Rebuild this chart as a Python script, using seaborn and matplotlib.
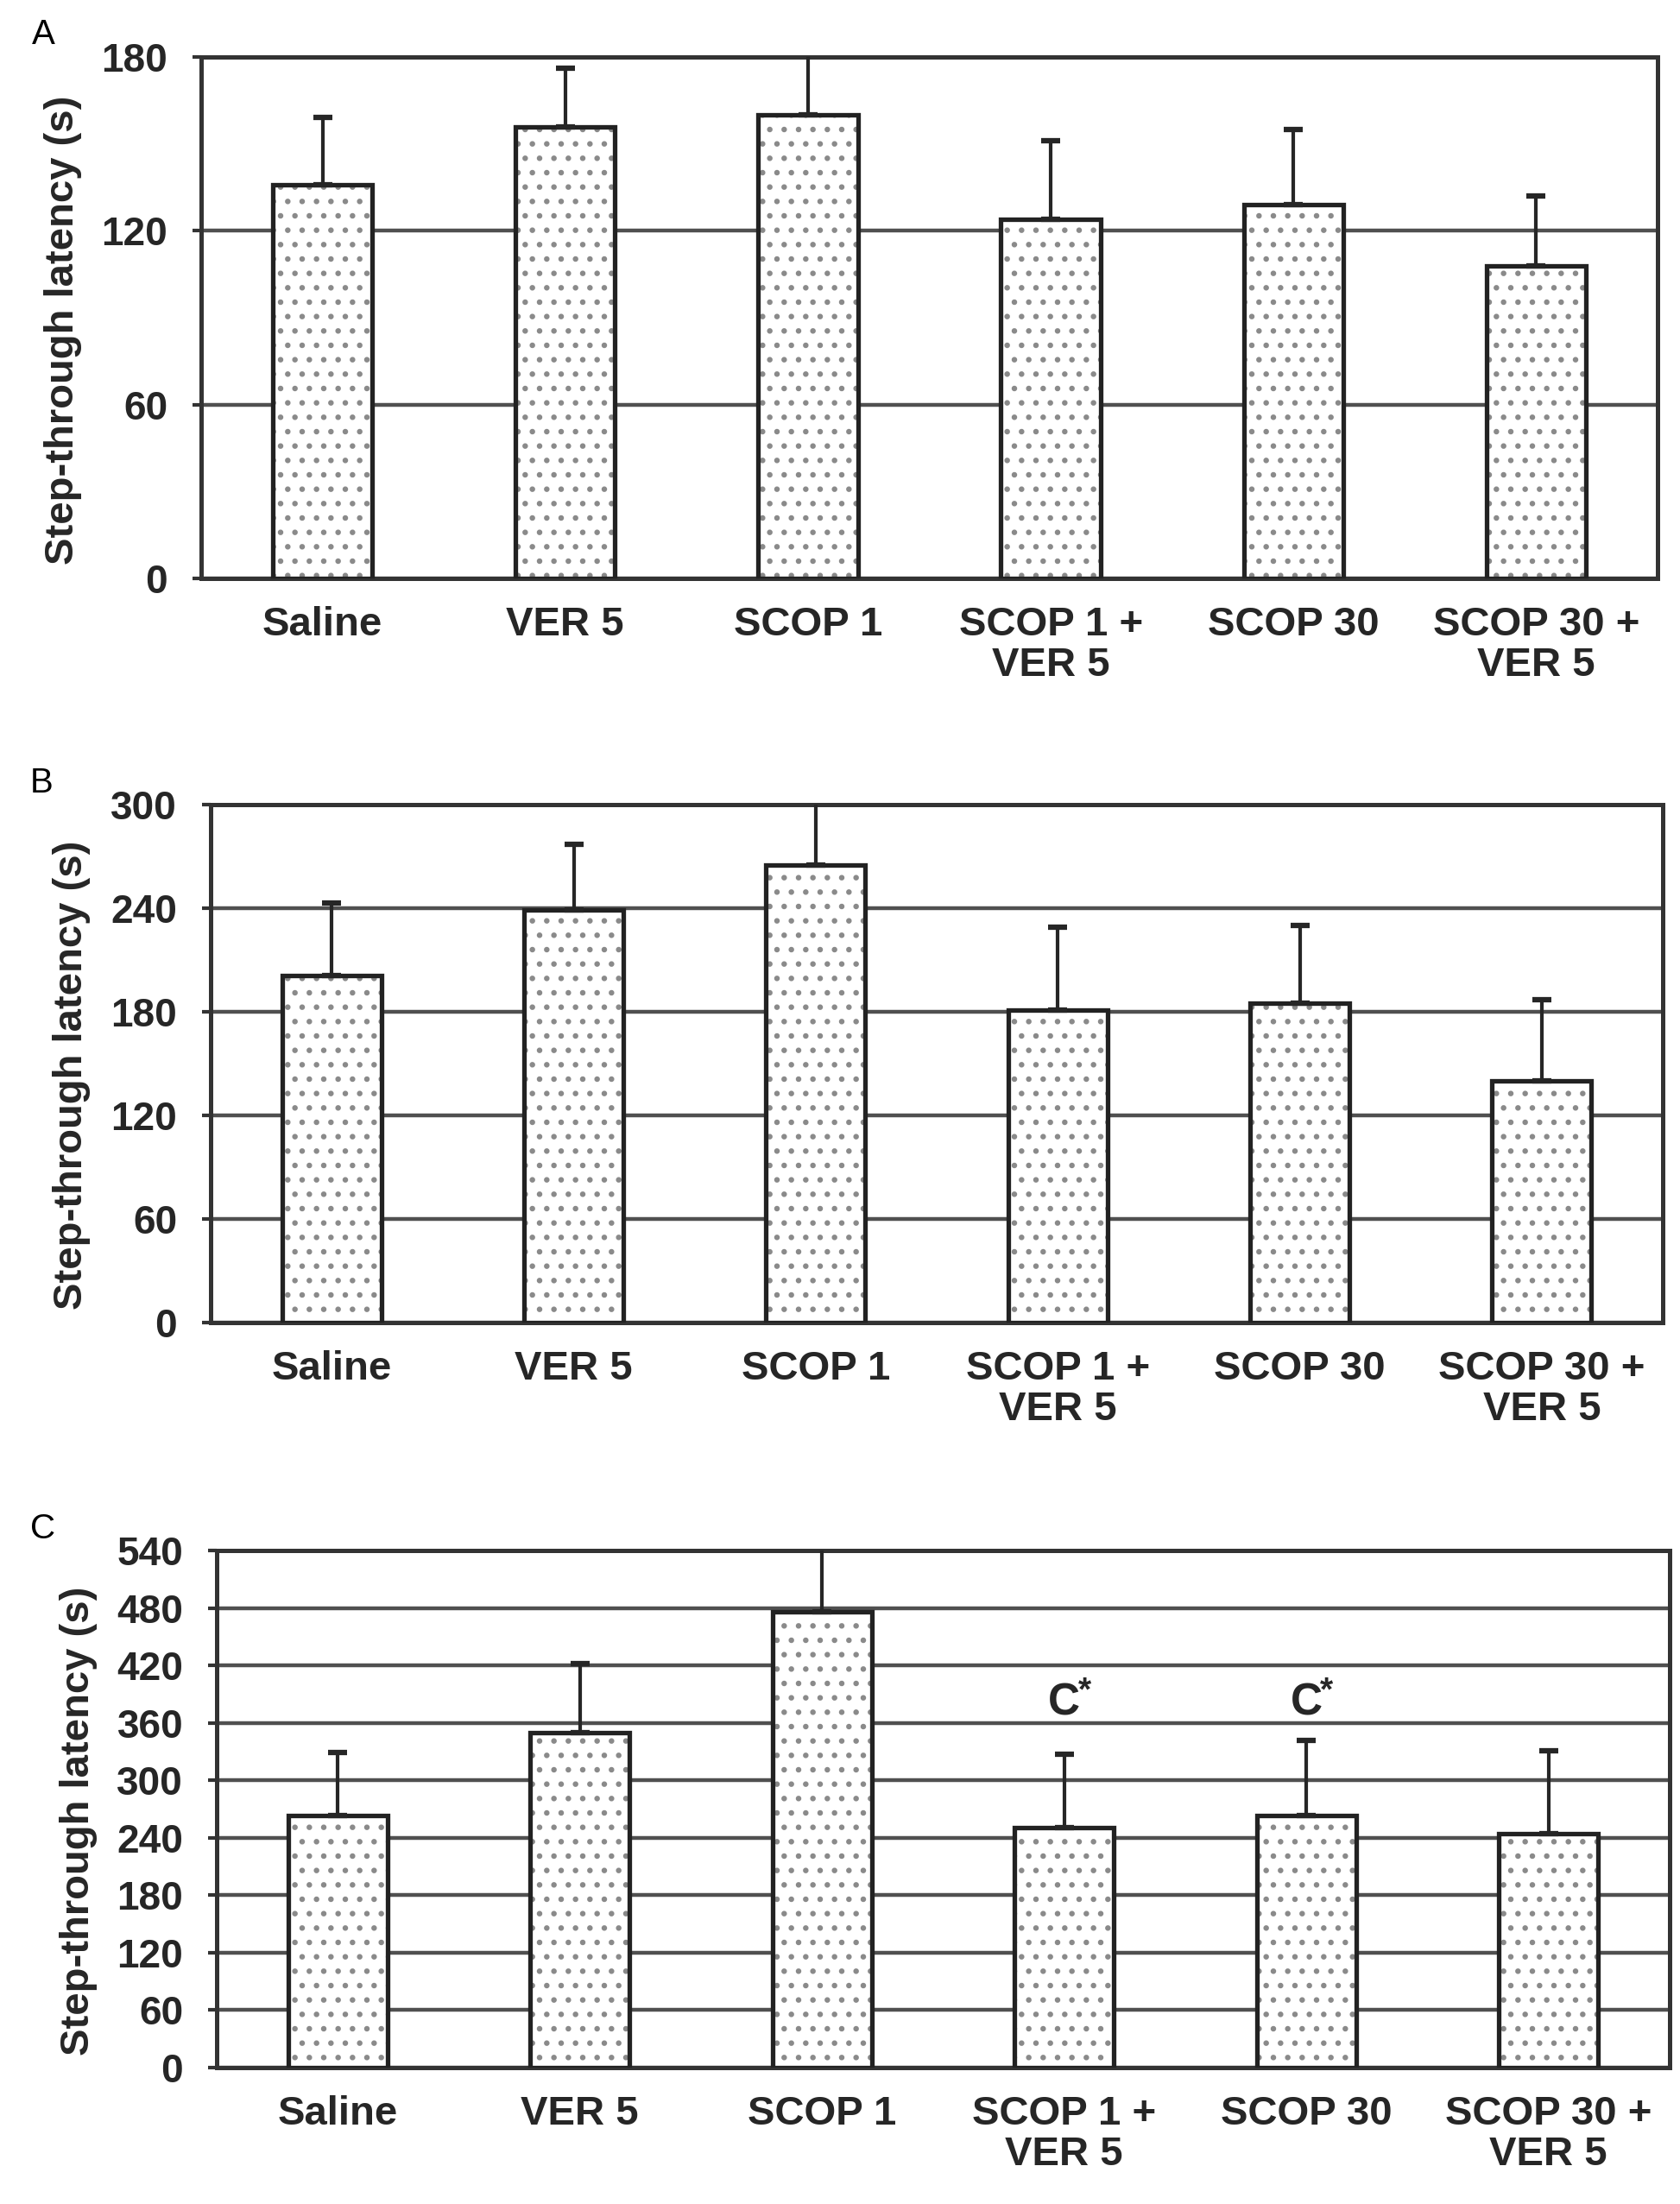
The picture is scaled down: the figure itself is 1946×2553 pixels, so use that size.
import matplotlib
matplotlib.use("Agg")
import matplotlib.pyplot as plt
import seaborn as sns
import numpy as np
import pandas as pd

# ---------------- data ----------------
groups = ["Saline", "VER 5", "SCOP 1", "SCOP 1 +\nVER 5", "SCOP 30", "SCOP 30 +\nVER 5"]

a_means = [136, 156, 160, 124, 129, 108]
a_sem = [23, 20, 25, 27, 26, 24]
a_ticks = [0, 60, 120, 180]

b_means = [201, 239, 265, 181, 185, 140]
b_sem = [42, 38, 40, 48, 45, 47]
b_ticks = [0, 60, 120, 180, 240, 300]

c_means = [263, 350, 476, 251, 263, 244]
c_sem = [66, 72, 80, 76, 79, 87]
c_ticks = [0, 60, 120, 180, 240, 300, 360, 420, 480, 540]
c_marked = ["SCOP 1 +\nVER 5", "SCOP 30"]   # groups marked "C*"
c_mark_y = 368

panel_letters = ["A", "B", "C"]
ylabel_text = "Step-through latency (s)"

# ---------------- style ----------------
sns.set_theme(style="white")
plt.rcParams["font.family"] = ["Liberation Sans", "DejaVu Sans"]
plt.rcParams["font.weight"] = "bold"
plt.rcParams["axes.labelweight"] = "bold"
plt.rcParams["hatch.linewidth"] = 2.2

W, H = 1946, 2553
fig = plt.figure(figsize=(W / 100, H / 100), dpi=100)

ink = "#262626"
# axes rectangles in pixels: left, right, top, bottom
rects = [(233, 1920, 66, 670), (244, 1926, 932, 1532), (251, 1934, 1796, 2395)]
letter_pos = [(37, 51), (35, 918), (35, 1782)]
ylab_center_x = [73, 83, 91]

panels = [(a_means, a_sem, a_ticks), (b_means, b_sem, b_ticks), (c_means, c_sem, c_ticks)]

for i, ((means, sems, ticks), (l, r, t, b)) in enumerate(zip(panels, rects)):
    ax = fig.add_axes([l / W, 1 - b / H, (r - l) / W, (b - t) / H])
    df = pd.DataFrame({"group": groups, "latency": means})

    # dotted fill
    sns.barplot(data=df, x="group", y="latency", order=groups, width=0.41,
                color="white", saturation=1, edgecolor="#8a8a8a", linewidth=0,
                ax=ax, zorder=2)
    for p in ax.patches:
        p.set_hatch(".")
        p.set_edgecolor("#8a8a8a")
        p.set_linewidth(0)
    # outlines
    sns.barplot(data=df, x="group", y="latency", order=groups, width=0.41,
                fill=False, color="#222222", linewidth=3.8, ax=ax, zorder=3)

    # upper error bars
    ax.errorbar(np.arange(len(groups)), means,
                yerr=[np.zeros(len(groups)), sems], fmt="none",
                ecolor=ink, elinewidth=3, capsize=8, capthick=4.5, zorder=4)

    ax.set_xlim(-0.5, len(groups) - 0.5)
    ax.set_ylim(ticks[0], ticks[-1])
    ax.set_yticks(ticks)
    ax.set_yticklabels([str(v) for v in ticks])
    ax.yaxis.grid(True, color="#505050", linewidth=3.2)
    ax.xaxis.grid(False)
    ax.set_axisbelow(True)
    for sp in ax.spines.values():
        sp.set_visible(True)
        sp.set_color("#333333")
        sp.set_linewidth(3.6)

    ax.tick_params(axis="y", left=True, length=7, width=3, color="#333333",
                   pad=21, labelsize=33, labelcolor=ink)
    ax.tick_params(axis="x", bottom=False, length=0, pad=23, labelsize=34,
                   labelcolor=ink)
    for lbl in ax.get_xticklabels():
        lbl.set_linespacing(1.1)

    ax.set_xlabel("")
    ax.set_ylabel(ylabel_text, fontsize=34, color=ink, fontweight="bold",
                  va="center")
    ax.yaxis.set_label_coords((ylab_center_x[i] - l) / (r - l), 0.477)

    lx, ly = letter_pos[i]
    fig.text(lx / W, 1 - ly / H, panel_letters[i], fontsize=29,
             fontweight="normal", color="black", ha="left", va="baseline")

    if i == 2:
        for g in c_marked:
            xi = groups.index(g)
            ax.text(xi, c_mark_y, "C", ha="center", va="baseline",
                    fontsize=37, fontweight="bold", color=ink, zorder=5)
            ax.annotate("*", xy=(xi, c_mark_y), xytext=(17, 20),
                        textcoords="offset points", ha="center", va="center",
                        fontsize=28, fontweight="bold", color=ink, zorder=5)

fig.savefig("out.png", dpi=100, facecolor="white")
